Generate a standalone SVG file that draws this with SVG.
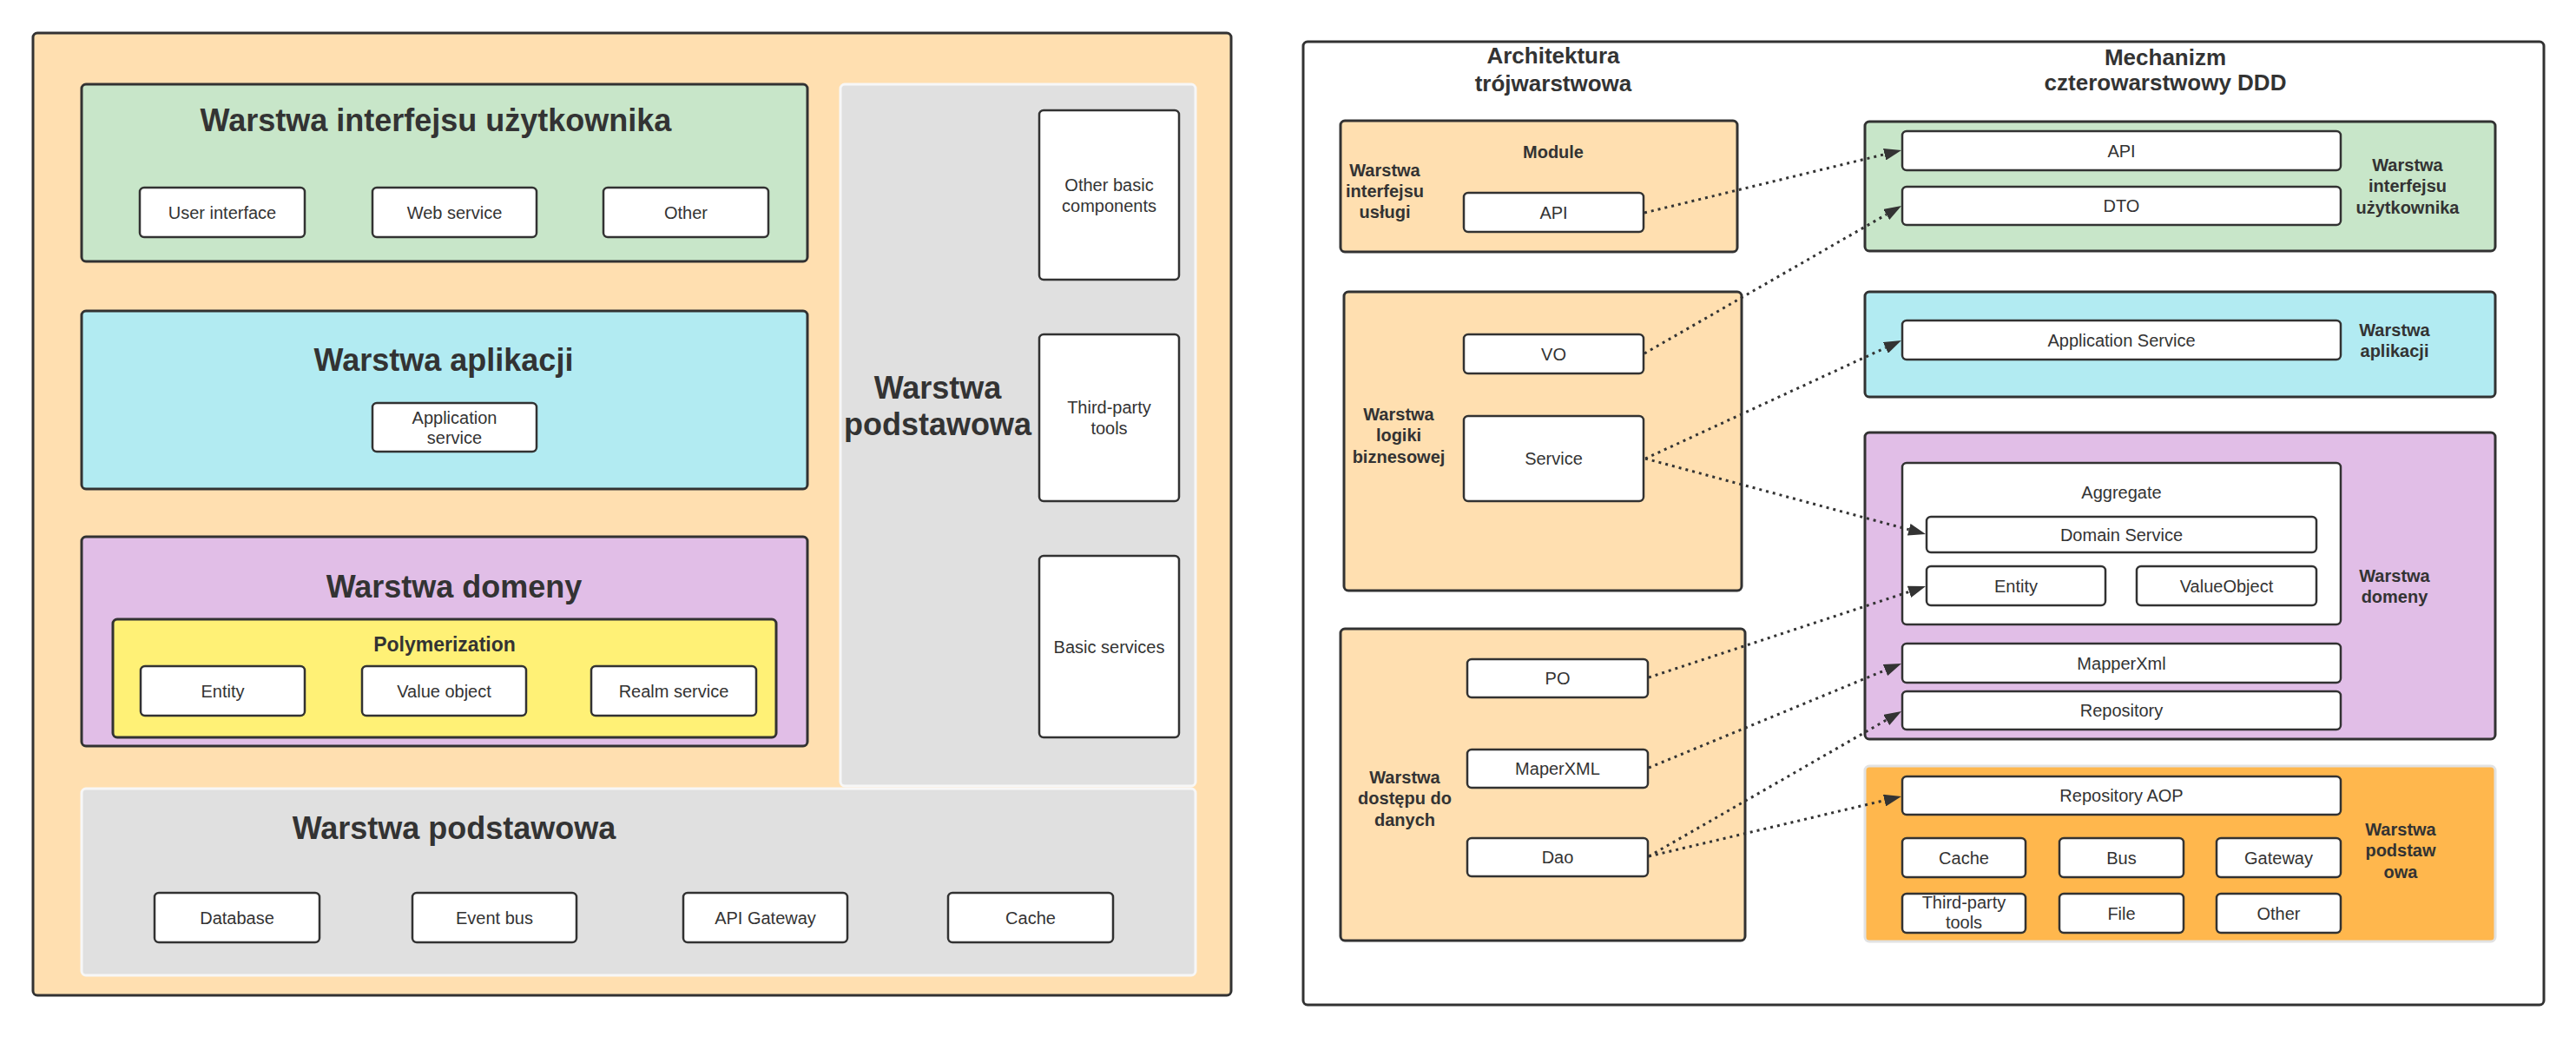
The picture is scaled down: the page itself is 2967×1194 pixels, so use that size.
<svg xmlns="http://www.w3.org/2000/svg" width="2967" height="1194" viewBox="0 0 2967 1194">
<style>
.t{font-family:"Liberation Sans",Arial,sans-serif;fill:#333;font-size:20px;text-anchor:middle}
.b{font-weight:bold}
.h1{font-size:36px;font-weight:bold}
.h2{font-size:26px;font-weight:bold}
.h3{font-size:23px;font-weight:bold}
.lay{stroke:#323232;stroke-width:3}
.box{fill:#fff;stroke:#323232;stroke-width:2.5}
.peach{fill:#FFDFB0}
.green{fill:#C8E6C9}
.cyan{fill:#B2EBF2}
.purple{fill:#E1BEE7}
.yellow{fill:#FFF176}
.grey{fill:#E0E0E0;stroke:#F7F7F7;stroke-width:3}
.orange{fill:#FFB74D;stroke:#E2E2E2;stroke-width:3}
.conn{fill:none;stroke:#333;stroke-width:3;stroke-dasharray:3 5;marker-end:url(#arr)}
</style>
<defs>
<marker id="arr" viewBox="0 0 20 14" refX="0" refY="7" markerWidth="20" markerHeight="14" markerUnits="userSpaceOnUse" orient="auto">
<path d="M0,0 L20,7 L0,14 z" fill="#333"/>
</marker>
</defs>
<rect width="2967" height="1194" fill="#fff"/>

<!-- LEFT PANEL -->
<g id="left-panel">
<rect x="38" y="38" width="1380" height="1108" rx="5" class="peach lay"/>
</g>
<g id="ui-layer">
<rect x="94" y="97" width="836" height="204" rx="5" class="green lay"/>
<text x="502" y="151" class="t h1">Warstwa interfejsu użytkownika</text>
</g>
<g id="user-interface"><rect x="161" y="216" width="190" height="57" rx="5" class="box"/><text x="256" y="251.5" class="t">User interface</text></g>
<g id="web-service"><rect x="429" y="216" width="189" height="57" rx="5" class="box"/><text x="523.5" y="251.5" class="t">Web service</text></g>
<g id="other-ui"><rect x="695" y="216" width="190" height="57" rx="5" class="box"/><text x="790" y="251.5" class="t">Other</text></g>

<g id="app-layer">
<rect x="94" y="358" width="836" height="205" rx="5" class="cyan lay"/>
<text x="511" y="427" class="t h1">Warstwa aplikacji</text>
</g>
<g id="application-service"><rect x="429" y="464" width="189" height="56" rx="5" class="box"/><text x="523.5" y="487.5" class="t">Application</text><text x="523.5" y="510.5" class="t">service</text></g>

<g id="domain-layer">
<rect x="94" y="618" width="836" height="241" rx="5" class="purple lay"/>
<text x="523" y="688" class="t h1">Warstwa domeny</text>
</g>
<g id="polymerization">
<rect x="130" y="713" width="764" height="136" rx="5" class="yellow lay"/>
<text x="512" y="750" class="t h3">Polymerization</text>
</g>
<g id="entity-l"><rect x="162" y="767" width="189" height="57" rx="5" class="box"/><text x="256.5" y="802.5" class="t">Entity</text></g>
<g id="value-object-l"><rect x="417" y="767" width="189" height="57" rx="5" class="box"/><text x="511.5" y="802.5" class="t">Value object</text></g>
<g id="realm-service"><rect x="681" y="767" width="190" height="57" rx="5" class="box"/><text x="776" y="802.5" class="t">Realm service</text></g>

<g id="base-vertical">
<rect x="968" y="97" width="409" height="808" rx="5" class="grey"/>
<text x="1080" y="458.5" class="t h1">Warstwa</text>
<text x="1080" y="501" class="t h1">podstawowa</text>
</g>
<g id="other-basic"><rect x="1197" y="127" width="161" height="195" rx="5" class="box"/><text x="1277.5" y="219.5" class="t">Other basic</text><text x="1277.5" y="243.5" class="t">components</text></g>
<g id="third-party-l"><rect x="1197" y="385" width="161" height="192" rx="5" class="box"/><text x="1277.5" y="476" class="t">Third-party</text><text x="1277.5" y="500" class="t">tools</text></g>
<g id="basic-services"><rect x="1197" y="640" width="161" height="209" rx="5" class="box"/><text x="1277.5" y="751.5" class="t">Basic services</text></g>

<g id="base-horizontal">
<rect x="94" y="908" width="1283" height="215" rx="5" class="grey"/>
<text x="523" y="966" class="t h1">Warstwa podstawowa</text>
</g>
<g id="database"><rect x="178" y="1028" width="190" height="57" rx="5" class="box"/><text x="273" y="1063.5" class="t">Database</text></g>
<g id="event-bus"><rect x="475" y="1028" width="189" height="57" rx="5" class="box"/><text x="569.5" y="1063.5" class="t">Event bus</text></g>
<g id="api-gateway"><rect x="787" y="1028" width="189" height="57" rx="5" class="box"/><text x="881.5" y="1063.5" class="t">API Gateway</text></g>
<g id="cache-l"><rect x="1092" y="1028" width="190" height="57" rx="5" class="box"/><text x="1187" y="1063.5" class="t">Cache</text></g>

<!-- RIGHT PANEL -->
<g id="right-panel">
<rect x="1501" y="48" width="1429" height="1109" rx="5" fill="#fff" class="lay"/>
<text x="1789" y="73" class="t h2">Architektura</text>
<text x="1789" y="105" class="t h2">trójwarstwowa</text>
<text x="2494" y="75" class="t h2">Mechanizm</text>
<text x="2494" y="104" class="t h2">czterowarstwowy DDD</text>
</g>

<g id="service-iface-layer">
<rect x="1544" y="139" width="457" height="151" rx="5" class="peach lay"/>
<text x="1789" y="182" class="t b">Module</text>
<text x="1595" y="203" class="t b">Warstwa</text>
<text x="1595" y="227" class="t b">interfejsu</text>
<text x="1595" y="251" class="t b">usługi</text>
</g>
<g id="api-l"><rect x="1686" y="222" width="207" height="45" rx="5" class="box"/><text x="1789.5" y="251.5" class="t">API</text></g>

<g id="business-layer">
<rect x="1548" y="336" width="458" height="344" rx="5" class="peach lay"/>
<text x="1611" y="484" class="t b">Warstwa</text>
<text x="1611" y="508" class="t b">logiki</text>
<text x="1611" y="533" class="t b">biznesowej</text>
</g>
<g id="vo"><rect x="1686" y="385" width="207" height="45" rx="5" class="box"/><text x="1789.5" y="414.5" class="t">VO</text></g>
<g id="service"><rect x="1686" y="479" width="207" height="98" rx="5" class="box"/><text x="1789.5" y="535" class="t">Service</text></g>

<g id="data-layer">
<rect x="1544" y="724" width="466" height="359" rx="5" class="peach lay"/>
<text x="1618" y="902" class="t b">Warstwa</text>
<text x="1618" y="926" class="t b">dostępu do</text>
<text x="1618" y="951" class="t b">danych</text>
</g>
<g id="po"><rect x="1690" y="759" width="208" height="44" rx="5" class="box"/><text x="1794" y="788" class="t">PO</text></g>
<g id="maperxml"><rect x="1690" y="863" width="208" height="44" rx="5" class="box"/><text x="1794" y="892" class="t">MaperXML</text></g>
<g id="dao"><rect x="1690" y="965" width="208" height="44" rx="5" class="box"/><text x="1794" y="994" class="t">Dao</text></g>

<g id="ddd-ui-layer">
<rect x="2148" y="140" width="726" height="149" rx="5" class="green lay"/>
<text x="2773" y="197" class="t b">Warstwa</text>
<text x="2773" y="221" class="t b">interfejsu</text>
<text x="2773" y="246" class="t b">użytkownika</text>
</g>
<g id="api-r"><rect x="2191" y="151" width="505" height="45" rx="5" class="box"/><text x="2443.5" y="180.5" class="t">API</text></g>
<g id="dto"><rect x="2191" y="215" width="505" height="44" rx="5" class="box"/><text x="2443.5" y="244" class="t">DTO</text></g>

<g id="ddd-app-layer">
<rect x="2148" y="336" width="726" height="121" rx="5" class="cyan lay"/>
<text x="2758" y="387" class="t b">Warstwa</text>
<text x="2758" y="411" class="t b">aplikacji</text>
</g>
<g id="app-service-r"><rect x="2191" y="369" width="505" height="45" rx="5" class="box"/><text x="2443.5" y="398.5" class="t">Application Service</text></g>

<g id="ddd-domain-layer">
<rect x="2148" y="498" width="726" height="353" rx="5" class="purple lay"/>
<text x="2758" y="670" class="t b">Warstwa</text>
<text x="2758" y="694" class="t b">domeny</text>
</g>
<g id="aggregate"><rect x="2191" y="533" width="505" height="186" rx="5" class="box"/><text x="2443.5" y="574" class="t">Aggregate</text></g>
<g id="domain-service"><rect x="2219" y="595" width="449" height="41" rx="5" class="box"/><text x="2443.5" y="622.5" class="t">Domain Service</text></g>
<g id="entity-r"><rect x="2219" y="652" width="206" height="45" rx="5" class="box"/><text x="2322" y="681.5" class="t">Entity</text></g>
<g id="valueobject-r"><rect x="2461" y="652" width="207" height="45" rx="5" class="box"/><text x="2564.5" y="681.5" class="t">ValueObject</text></g>
<g id="mapperxml-r"><rect x="2191" y="741" width="505" height="45" rx="5" class="box"/><text x="2443.5" y="770.5" class="t">MapperXml</text></g>
<g id="repository"><rect x="2191" y="796" width="505" height="44" rx="5" class="box"/><text x="2443.5" y="825" class="t">Repository</text></g>

<g id="ddd-base-layer">
<rect x="2148" y="882" width="726" height="202" rx="5" class="orange"/>
<text x="2765" y="962" class="t b">Warstwa</text>
<text x="2765" y="986" class="t b">podstaw</text>
<text x="2765" y="1011" class="t b">owa</text>
</g>
<g id="repository-aop"><rect x="2191" y="894" width="505" height="44" rx="5" class="box"/><text x="2443.5" y="923" class="t">Repository AOP</text></g>
<g id="cache-r"><rect x="2191" y="965" width="142" height="45" rx="5" class="box"/><text x="2262" y="994.5" class="t">Cache</text></g>
<g id="bus"><rect x="2372" y="965" width="143" height="45" rx="5" class="box"/><text x="2443.5" y="994.5" class="t">Bus</text></g>
<g id="gateway"><rect x="2553" y="965" width="143" height="45" rx="5" class="box"/><text x="2624.5" y="994.5" class="t">Gateway</text></g>
<g id="third-party-r"><rect x="2191" y="1029" width="142" height="45" rx="5" class="box"/><text x="2262" y="1046" class="t">Third-party</text><text x="2262" y="1069" class="t">tools</text></g>
<g id="file"><rect x="2372" y="1029" width="143" height="45" rx="5" class="box"/><text x="2443.5" y="1058.5" class="t">File</text></g>
<g id="other-r"><rect x="2553" y="1029" width="143" height="45" rx="5" class="box"/><text x="2624.5" y="1058.5" class="t">Other</text></g>

<g id="connectors">
<path class="conn" d="M1894,245 L2170.6,177.7"/>
<path class="conn" d="M1894,407 L2172.7,247"/>
<path class="conn" d="M1895,528 L2171.8,400.4"/>
<path class="conn" d="M1895,528 L2198.7,609.8"/>
<path class="conn" d="M1899,780 L2199,681.3"/>
<path class="conn" d="M1899,884 L2171.5,771.6"/>
<path class="conn" d="M1899,986 L2172.7,829"/>
<path class="conn" d="M1899,986 L2170.5,921.6"/>
</g>
</svg>
